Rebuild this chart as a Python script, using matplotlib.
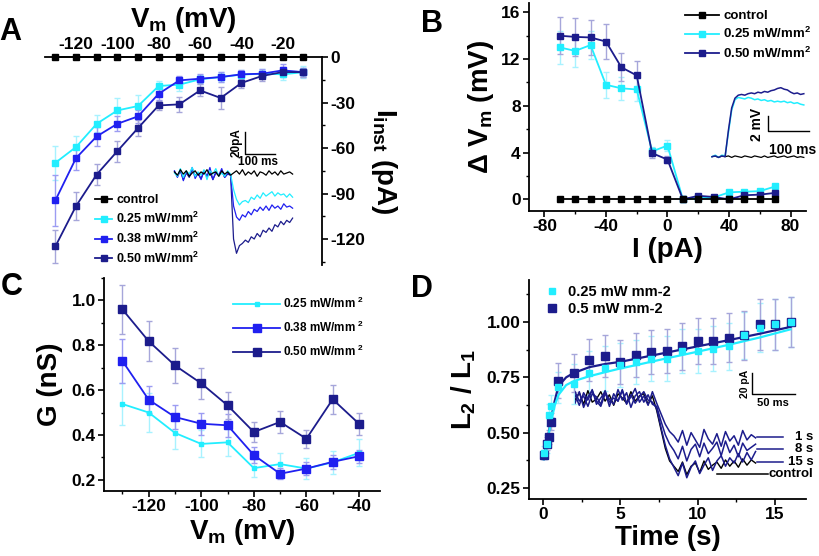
import matplotlib
matplotlib.use('Agg')
import matplotlib.pyplot as plt
from matplotlib.ticker import MultipleLocator, FormatStrFormatter

plt.rcParams['font.family'] = ['Liberation Sans', 'DejaVu Sans']
plt.rcParams['font.weight'] = 'bold'
plt.rcParams['axes.unicode_minus'] = False
plt.rcParams['mathtext.fontset'] = 'custom'
plt.rcParams['mathtext.rm'] = 'Liberation Sans:bold'
plt.rcParams['mathtext.it'] = 'Liberation Sans:bold'
plt.rcParams['mathtext.bf'] = 'Liberation Sans:bold'
plt.rcParams['mathtext.sf'] = 'Liberation Sans:bold'

# ---------------- data ----------------
# Panel A
A_vm = [-130, -120, -110, -100, -90, -80, -70, -60, -50, -40, -30, -20, -10]
A_ctrl = [0, 0, 0, 0, 0, 0, 0, 0, 0, 0, 0, 0, 0]
A_025 = [-69.7, -59.3, -44.0, -35.2, -32.3, -19.1, -18.2, -14.7, -13.2, -11.6, -11.0, -11.4, -10.0]
A_038 = [-94.5, -66.6, -52.3, -44.0, -39.1, -24.2, -15.4, -14.3, -13.2, -11.4, -11.0, -8.8, -10.0]
A_050 = [-124.8, -98.2, -77.4, -62.0, -46.8, -31.9, -31.2, -22.0, -27.0, -17.1, -12.5, -9.9, -10.0]
A_025e = [11, 7, 5.5, 8, 7, 3, 4, 3, 3, 3, 3, 4, 4]
A_038e = [17, 8, 6, 5, 4.5, 4, 3, 3, 3, 3, 3, 4, 3]
A_050e = [11, 9, 7, 7, 5, 3, 5, 4, 7, 3, 3, 3, 3]
# Panel A inset traces (ms, pA)
A_tr_t = [0, 10, 20, 30, 40, 50, 60, 70, 80, 90, 100, 110, 120, 130, 140, 150, 160, 170, 180, 190,
          200, 210, 220, 230, 240, 250, 260, 270, 280, 290, 300, 310, 320, 330, 340, 350, 360, 370, 380, 390, 400]
A_tr_ctrl = [1, -2, 3, -1, 2, -3, 0, 2, -2, 1, -1, 3, -2, 0, 1, -3, 2, -1, 1, -2,
             0, 2, -1, 3, -2, 1, -1, 2, -3, 1, 0, -2, 2, -1, 1, -2, 2, -1, 0, 1, -1]
A_tr_025 = [0, -3, 4, -4, 2, -1, 5, -3, 1, -2, 3, -6, 2, -1, 4, -3, 0, -3, 2, -1,
            -15, -24, -29, -26, -25, -27, -22, -24, -20, -23, -18, -21, -19, -17, -21, -18, -20, -19, -22, -19, -22]
A_tr_038 = [2, -4, 3, -7, 1, -3, 5, -5, 0, -6, 2, -3, 5, -6, 1, -2, 4, -4, 0, -2,
            -30, -40, -43, -38, -40, -35, -38, -33, -35, -31, -34, -30, -34, -29, -32, -30, -33, -28, -31, -30, -32]
A_tr_050 = [1, -3, 2, -6, 0, -4, 3, -2, -1, -5, 2, -3, 1, -6, 0, -2, 2, -4, -1, -2,
            -60, -73, -66, -64, -61, -63, -58, -60, -55, -58, -52, -54, -50, -53, -47, -49, -44, -47, -43, -45, -41]

# Panel B
B_I = [-70, -60, -50, -40, -30, -20, -10, 0, 10, 20, 30, 40, 50, 60, 70]
B_ctrl = [0, 0, 0, 0, 0, 0, 0, 0, 0, 0, 0, 0, 0, 0, 0]
B_025 = [13.0, 12.7, 13.2, 9.8, 9.5, 9.4, 4.1, 4.6, 0.0, 0.1, 0.15, 0.6, 0.65, 0.7, 1.1]
B_050 = [14.0, 13.9, 13.85, 13.5, 11.3, 10.6, 3.95, 3.4, 0.0, 0.3, 0.2, 0.0, 0.35, 0.4, 0.55]
B_025e = [1.4, 1.4, 1.2, 1.1, 1.0, 1.0, 0.4, 0.5, 0.1, 0.1, 0.1, 0.15, 0.15, 0.15, 0.2]
B_050e = [1.6, 1.6, 1.5, 1.5, 1.2, 1.2, 0.4, 0.3, 0.1, 0.1, 0.1, 0.1, 0.1, 0.1, 0.15]
# Panel B inset traces (ms, mV)
B_tr_t = [0, 8, 16, 24, 32, 40, 48, 56, 64, 72, 80, 88, 96, 104, 112, 120, 128, 136, 144, 152,
          160, 168, 176, 184, 192, 200, 208, 216, 224]
B_tr_ctrl = [0, 0.1, -0.1, 0.1, 0, 0.1, -0.1, 0.1, 0, -0.1, 0.1, 0, -0.1, 0.1, 0, -0.1, 0.1, -0.1, 0, 0.1,
             -0.1, 0, 0.1, -0.1, 0, 0.1, -0.1, 0, -0.1]
B_tr_025 = [0, 0.2, -0.1, 0.2, 0.1, 3.2, 6.2, 7.6, 7.9, 7.8, 7.7, 7.9, 7.8, 7.6, 7.7, 7.5, 7.6, 7.4, 7.5, 7.3,
            7.4, 7.3, 7.4, 7.2, 7.3, 7.1, 7.2, 7.0, 6.9]
B_tr_050 = [0, 0.1, -0.1, 0.1, 0, 3.5, 6.5, 7.8, 8.2, 8.3, 8.2, 8.4, 8.5, 8.4, 8.6, 8.5, 8.7, 8.6, 8.8, 8.9,
            9.1, 9.2, 9.0, 8.9, 8.6, 8.4, 8.5, 8.3, 8.4]

# Panel C
C_vm = [-130, -120, -110, -100, -90, -80, -70, -60, -50, -40]
C_025 = [0.538, 0.50, 0.409, 0.36, 0.367, 0.252, 0.27, 0.25, 0.278, 0.32]
C_038 = [0.73, 0.557, 0.48, 0.45, 0.443, 0.31, 0.227, 0.25, 0.28, 0.305]
C_050 = [0.96, 0.818, 0.71, 0.63, 0.532, 0.413, 0.458, 0.383, 0.559, 0.45]
C_025e = [0.095, 0.085, 0.07, 0.06, 0.06, 0.04, 0.05, 0.045, 0.05, 0.06]
C_038e = [0.10, 0.06, 0.055, 0.05, 0.05, 0.035, 0.025, 0.03, 0.03, 0.03]
C_050e = [0.11, 0.09, 0.08, 0.07, 0.06, 0.045, 0.05, 0.04, 0.065, 0.05]

# Panel D
D_t = [0.1, 0.25, 0.4, 0.55, 1, 2, 3, 4, 5, 6, 7, 8, 9, 10, 11, 12, 13, 14, 15, 16]
D_025 = [0.41, 0.45, 0.58, 0.62, 0.705, 0.72, 0.77, 0.79, 0.805, 0.82, 0.835, 0.835, 0.87, 0.87,
         0.88, 0.89, 0.94, 0.975, 0.99, 1.0]
D_050 = [0.40, 0.45, 0.48, 0.55, 0.735, 0.77, 0.83, 0.845, 0.82, 0.85, 0.865, 0.87, 0.89, 0.915,
         0.915, 0.93, 0.94, 0.99, 0.99, 1.0]
D_025e = [0.03, 0.04, 0.05, 0.05, 0.07, 0.09, 0.10, 0.10, 0.10, 0.10, 0.10, 0.10, 0.10, 0.10,
          0.10, 0.105, 0.105, 0.11, 0.115, 0.115]
D_050e = [0.02, 0.03, 0.03, 0.04, 0.08, 0.085, 0.095, 0.095, 0.10, 0.10, 0.10, 0.10, 0.105, 0.105,
          0.105, 0.11, 0.11, 0.115, 0.115, 0.115]
D_fit_t = [0.05, 0.25, 0.5, 0.75, 1.0, 1.5, 2, 3, 4, 5, 6, 8, 10, 12, 14, 16]
D_fit_025 = [0.38, 0.45, 0.54, 0.62, 0.67, 0.715, 0.733, 0.755, 0.773, 0.79, 0.805, 0.836, 0.866, 0.897, 0.93, 0.967]
D_fit_050 = [0.38, 0.45, 0.55, 0.64, 0.71, 0.75, 0.77, 0.796, 0.81, 0.82, 0.834, 0.862, 0.89, 0.918, 0.947, 0.978]
# Panel D inset traces (ms, pA)
D_tr_t = [0, 5, 10, 15, 20, 25, 30, 35, 40, 45, 50, 55, 60, 65, 70, 75, 80, 85, 90,
          95, 100, 105, 110, 115,
          120, 125, 130, 135, 140, 145, 150, 155, 160, 165, 170, 175, 180, 185, 190, 195, 200, 205, 210]
D_tr_1s = [3, -7, 5, -2, 8, -6, 0, 6, -8, 4, -3, 7, -5, 1, 9, -4, 2, -7, 6,
           -5, -15, -25, -32, -36,
           -42, -31, -45, -33, -40, -47, -30, -39, -44, -34, -46, -32, -41, -36, -45, -31, -40, -35, -38]
D_tr_8s = [-5, 6, -9, 1, 7, -3, -8, 4, -1, -6, 8, -2, 5, -9, 2, 6, -4, 3, -6,
           -8, -22, -35, -44, -50,
           -58, -46, -60, -49, -44, -56, -43, -53, -48, -42, -55, -41, -52, -45, -56, -43, -50, -47, -44]
D_tr_15s = [6, -3, 2, -8, 4, 1, -6, 7, -4, 0, -3, 8, -6, 3, -5, 1, 6, -2, -4,
            -10, -28, -45, -58, -66,
            -74, -62, -76, -66, -60, -72, -64, -57, -69, -60, -55, -65, -57, -62, -53, -61, -52, -59, -51]
D_tr_ctrl = [-2, 5, -6, 7, -4, -1, 6, -3, 3, -7, 4, 0, -5, 6, -3, 2, 4, -6, 2,
             -12, -30, -48, -60, -65,
             -70, -61, -73, -65, -62, -71, -60, -68, -64, -61, -67, -59, -65, -60, -66, -58, -64, -59, -62]
D_tr_labels = ['1 s', '8 s', '15 s', 'control']
D_tr_label_y = [-37, -48.6, -61, -72]

# ---------------- styles ----------------
C_CY = '#22EEFF'
C_BL = '#2020F0'
C_NV = '#1C1C8C'
E_CY = '#A8F2FF'
E_BL = '#9C9CF2'
E_NV = '#A6A6DA'
TICK_FS = 12.5
LAB_FS = 20
W, H = 820, 556


def rect(x0, y0, x1, y1):
    return [x0 / W, 1 - y1 / H, (x1 - x0) / W, (y1 - y0) / H]


def style_ticks(ax, length=4, pad=2):
    ax.tick_params(which='major', direction='out', length=length, width=1.2, labelsize=TICK_FS, pad=pad)
    ax.tick_params(which='minor', direction='out', length=2.5, width=1.0)
    for lab in ax.get_xticklabels() + ax.get_yticklabels():
        lab.set_fontweight('bold')
    for s in ax.spines.values():
        s.set_linewidth(1.3)


fig = plt.figure(figsize=(8.2, 5.56), dpi=100)

# ================= Panel A =================
axA = fig.add_axes(rect(45, 57, 322, 265))
axA.spines['left'].set_visible(False)
axA.spines['bottom'].set_visible(False)
axA.xaxis.tick_top()
axA.xaxis.set_label_position('top')
axA.yaxis.tick_right()
axA.yaxis.set_label_position('right')
for yv, ye, ec in [(A_025, A_025e, E_CY), (A_038, A_038e, E_BL), (A_050, A_050e, E_NV)]:
    axA.errorbar(A_vm, yv, yerr=ye, fmt='none', ecolor=ec, elinewidth=1, capsize=2, zorder=1)
axA.plot(A_vm, A_ctrl, '-s', color='black', ms=4.5, lw=1.3, label='control', clip_on=False, zorder=4)
axA.plot(A_vm, A_025, '-s', color=C_CY, ms=5, lw=1.3, label='0.25 mW/mm$^2$', zorder=3)
axA.plot(A_vm, A_038, '-s', color=C_BL, ms=5, lw=1.3, label='0.38 mW/mm$^2$', zorder=3)
axA.plot(A_vm, A_050, '-s', color=C_NV, ms=5, lw=1.3, label='0.50 mW/mm$^2$', zorder=3)
axA.set_xlim(-135, -1)
axA.set_ylim(-137, 0)
axA.xaxis.set_major_locator(MultipleLocator(20))
axA.xaxis.set_minor_locator(MultipleLocator(10))
axA.yaxis.set_major_locator(MultipleLocator(30))
axA.yaxis.set_minor_locator(MultipleLocator(15))
style_ticks(axA)
axA.tick_params(axis='x', which='major', length=2.5, pad=1)
axA.tick_params(axis='x', which='minor', length=2)
axA.set_xlabel('$V_m$ (mV)', fontsize=LAB_FS, fontweight='bold', labelpad=7)
axA.set_ylabel('$I_{inst}$ (pA)', fontsize=LAB_FS, fontweight='bold', rotation=-90, labelpad=24)
axA.legend(loc='upper left', bbox_to_anchor=(95 / W, 1 - 194 / H), bbox_transform=fig.transFigure,
           frameon=False, handlelength=1.4, handletextpad=0.3, labelspacing=0.38,
           borderpad=0, borderaxespad=0, prop={'weight': 'bold', 'size': 9})

# inset A
iA = fig.add_axes(rect(173, 128, 300, 262))
iA.axis('off')
iA.set_xlim(-5, 425)
iA.set_ylim(-80.9, 40.9)
iA.plot(A_tr_t, A_tr_050, color=C_NV, lw=0.9)
iA.plot(A_tr_t, A_tr_038, color=C_BL, lw=0.9)
iA.plot(A_tr_t, A_tr_025, color=C_CY, lw=0.9)
iA.plot(A_tr_t, A_tr_ctrl, color='black', lw=0.9)
iA.plot([240, 240, 340], [37.3, 17.3, 17.3], color='black', lw=1)
iA.text(232, 27.3, '20pA', rotation=90, ha='right', va='center', fontsize=8.5, fontweight='bold')
iA.text(283, 10, '100 ms', ha='center', va='center', fontsize=8.5, fontweight='bold')

# ================= Panel B =================
axB = fig.add_axes(rect(529, 3, 806, 211))
axB.spines['top'].set_visible(False)
axB.spines['right'].set_visible(False)
for yv, ye, ec in [(B_025, B_025e, E_CY), (B_050, B_050e, E_NV)]:
    axB.errorbar(B_I, yv, yerr=ye, fmt='none', ecolor=ec, elinewidth=1, capsize=2, zorder=1)
axB.plot(B_I, B_ctrl, '-s', color='black', ms=4.5, lw=1.3, label='control', zorder=4)
axB.plot(B_I, B_025, '-s', color=C_CY, ms=5, lw=1.3, label='0.25 mW/mm$^2$', zorder=3)
axB.plot(B_I, B_050, '-s', color=C_NV, ms=5, lw=1.3, label='0.50 mW/mm$^2$', zorder=3)
axB.set_xlim(-90, 90)
axB.set_ylim(-1, 16.8)
axB.xaxis.set_major_locator(MultipleLocator(40))
axB.xaxis.set_minor_locator(MultipleLocator(20))
axB.yaxis.set_major_locator(MultipleLocator(4))
axB.yaxis.set_minor_locator(MultipleLocator(2))
style_ticks(axB)
axB.set_xlabel('I (pA)', fontsize=LAB_FS, fontweight='bold', labelpad=2)
axB.set_ylabel('Δ $V_m$ (mV)', fontsize=LAB_FS, fontweight='bold', labelpad=4)
axB.legend(loc='upper left', bbox_to_anchor=(685 / W, 1 - 10 / H), bbox_transform=fig.transFigure,
           frameon=False, handlelength=2.6, handletextpad=0.3, labelspacing=0.3,
           borderpad=0, borderaxespad=0, prop={'weight': 'bold', 'size': 9.5})

iB = fig.add_axes(rect(710, 85, 815, 162))
iB.axis('off')
iB.set_xlim(-4.9, 251.3)
iB.set_ylim(-0.71, 9.56)
iB.plot(B_tr_t, B_tr_ctrl, color='black', lw=0.9)
iB.plot(B_tr_t, B_tr_025, color=C_CY, lw=1.1)
iB.plot(B_tr_t, B_tr_050, color=C_NV, lw=1.1)
iB.plot([136.6, 136.6, 236.6], [5.43, 3.43, 3.43], color='black', lw=1)
iB.text(127, 4.36, '2 mV', rotation=90, ha='right', va='center', fontsize=10, fontweight='bold')
iB.text(197, 0.9, '100 ms', ha='center', va='center', fontsize=10, fontweight='bold', clip_on=False)

# ================= Panel C =================
axC = fig.add_axes(rect(104, 278, 380, 491))
axC.spines['top'].set_visible(False)
axC.spines['right'].set_visible(False)
for yv, ye, ec in [(C_025, C_025e, E_CY), (C_038, C_038e, E_BL), (C_050, C_050e, E_NV)]:
    axC.errorbar(C_vm, yv, yerr=ye, fmt='none', ecolor=ec, elinewidth=1, capsize=2, zorder=1)
axC.plot(C_vm, C_025, '-s', color=C_CY, ms=3.5, lw=1.3, label='0.25 mW/mm$^{\\ 2}$', zorder=3)
axC.plot(C_vm, C_038, '-s', color=C_BL, ms=5.5, lw=1.3, label='0.38 mW/mm$^{\\ 2}$', zorder=3)
axC.plot(C_vm, C_050, '-s', color=C_NV, ms=5.5, lw=1.3, label='0.50 mW/mm$^{\\ 2}$', zorder=3)
axC.set_xlim(-137, -32)
axC.set_ylim(0.15, 1.1)
axC.xaxis.set_major_locator(MultipleLocator(20))
axC.xaxis.set_minor_locator(MultipleLocator(10))
axC.yaxis.set_major_locator(MultipleLocator(0.2))
axC.yaxis.set_minor_locator(MultipleLocator(0.1))
axC.yaxis.set_major_formatter(FormatStrFormatter('%.1f'))
style_ticks(axC)
axC.set_xlabel('$V_m$ (mV)', fontsize=LAB_FS, fontweight='bold', labelpad=2)
axC.set_ylabel('G (nS)', fontsize=LAB_FS, fontweight='bold', labelpad=6)
axC.legend(loc='upper left', bbox_to_anchor=(233 / W, 1 - 296 / H), bbox_transform=fig.transFigure,
           frameon=False, handlelength=4.0, handletextpad=0.2, labelspacing=0.75,
           borderpad=0, borderaxespad=0, prop={'weight': 'bold', 'size': 8.5})

# ================= Panel D =================
axD = fig.add_axes(rect(529, 280, 806, 499))
axD.spines['top'].set_visible(False)
axD.spines['right'].set_visible(False)
axD.errorbar(D_t, D_025, yerr=D_025e, fmt='none', ecolor=E_CY, elinewidth=1, capsize=2, zorder=1)
axD.errorbar(D_t, D_050, yerr=D_050e, fmt='none', ecolor=E_NV, elinewidth=1, capsize=2, zorder=1)
axD.plot(D_fit_t, D_fit_050, color=C_NV, lw=1.6, zorder=2)
axD.plot(D_fit_t, D_fit_025, color=C_CY, lw=1.6, zorder=2)
axD.plot(D_t, D_050, 's', color=C_NV, ms=5.5, label='0.5 mW mm-2', zorder=3)
axD.plot(D_t, D_025, 's', color=C_CY, ms=4, label='0.25 mW mm-2', zorder=4)
axD.set_xlim(-0.9, 17)
axD.set_ylim(0.2, 1.19)
axD.xaxis.set_major_locator(MultipleLocator(5))
axD.xaxis.set_minor_locator(MultipleLocator(2.5))
axD.yaxis.set_major_locator(MultipleLocator(0.25))
axD.yaxis.set_minor_locator(MultipleLocator(0.125))
axD.yaxis.set_major_formatter(FormatStrFormatter('%.2f'))
style_ticks(axD)
axD.set_xlabel('Time (s)', fontsize=LAB_FS, fontweight='bold', labelpad=2)
axD.set_ylabel('$L_2$ / $L_1$', fontsize=LAB_FS, fontweight='bold', labelpad=6)
hD, lD = axD.get_legend_handles_labels()
axD.legend(hD[::-1], lD[::-1], loc='upper left', bbox_to_anchor=(545 / W, 1 - 285 / H),
           bbox_transform=fig.transFigure, frameon=False, handlelength=1.0, handletextpad=0.6,
           labelspacing=0.2, borderpad=0, borderaxespad=0, prop={'weight': 'bold', 'size': 10.5})

iD = fig.add_axes(rect(575, 365, 815, 485))
iD.axis('off')
iD.set_xlim(0, 279.1)
iD.set_ylim(-82.9, 31.4)
iD.plot(D_tr_t, D_tr_ctrl, color='black', lw=1)
iD.plot(D_tr_t, D_tr_15s, color=C_NV, lw=1.1)
iD.plot(D_tr_t, D_tr_8s, color=C_NV, lw=1.1)
iD.plot(D_tr_t, D_tr_1s, color=C_NV, lw=1.1)
for lab, yl in zip(D_tr_labels, D_tr_label_y):
    col = 'black' if lab == 'control' else C_NV
    x0 = 165 if lab == 'control' else 212
    x1 = 224 if lab == 'control' else 242
    iD.plot([x0, x1], [yl, yl], color=col, lw=1.1)
    iD.text(277, yl, lab, ha='right', va='center', fontsize=9.5, fontweight='bold')
iD.plot([205.8, 205.8, 255.8], [23.8, 3.8, 3.8], color='black', lw=1)
iD.text(203, 13.8, '20 pA', rotation=90, ha='right', va='center', fontsize=7.5, fontweight='bold')
iD.text(230, -4.8, '50 ms', ha='center', va='center', fontsize=8, fontweight='bold')

# panel letters
for lab, (x, y) in zip('ABCD', [(10, 32), (432, 24), (12, 287), (422, 289)]):
    fig.text(x / W, 1 - y / H, lab, fontsize=22, fontweight='bold', ha='center', va='center')

fig.savefig('out.png', dpi=100)
